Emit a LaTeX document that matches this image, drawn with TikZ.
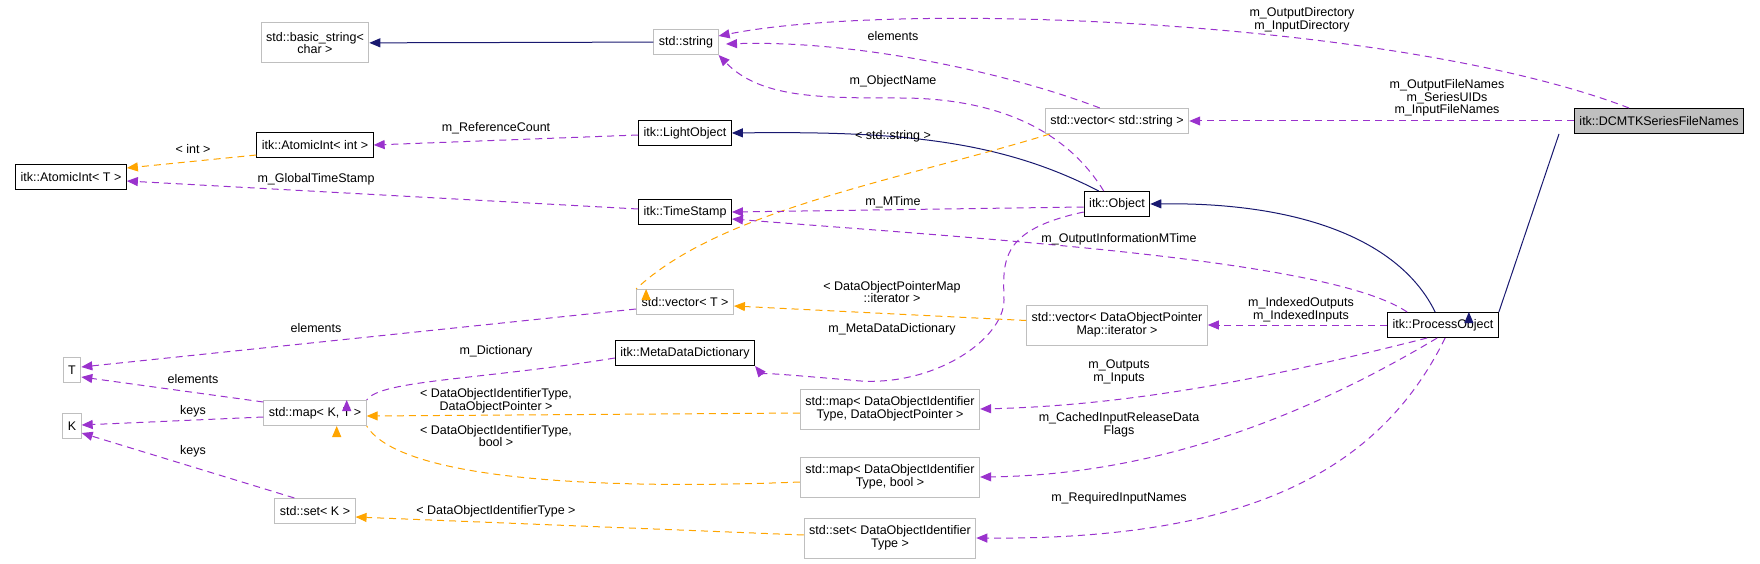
\documentclass[tikz,border=0pt]{standalone}
\usepackage{fontspec}
\setmainfont{Liberation Sans}
\usetikzlibrary{arrows.meta}
\definecolor{pur}{HTML}{9A32CD}
\definecolor{ora}{HTML}{FFA500}
\definecolor{nav}{HTML}{191970}
\definecolor{gbd}{HTML}{BFBFBF}
\begin{document}
\begin{tikzpicture}[x=1pt,y=-1pt,
  every node/.style={font=\fontsize{12.5}{12.7}\selectfont, align=center, inner sep=0pt},
  cls/.style={draw=black, line width=1pt, inner xsep=5pt, minimum height=25pt, fill=white},
  ext/.style={draw=gbd, line width=1pt, inner xsep=5pt, minimum height=25pt, fill=white},
  two/.style={minimum height=40pt},
  tip/.style={-{Triangle[length=11pt,width=9pt]}},
  mem/.style={tip, draw=pur, line width=1pt, dash pattern=on 7pt off 5pt},
  tpl/.style={tip, draw=ora, line width=1pt, dash pattern=on 7pt off 5pt},
  inh/.style={tip, draw=nav, line width=1pt},
  lab/.style={fill=none}]
\useasboundingbox (0,0) rectangle (1760,564);
% nodes
\node[ext,two] (basic) at (315,43) {std::basic\_string<\\char >};
\node[ext] (str) at (686,42) {std::string};
\node[cls] (aiint) at (315,145) {itk::AtomicInt< int >};
\node[cls] (aiT) at (71,177) {itk::AtomicInt< T >};
\node[cls] (light) at (685,133) {itk::LightObject};
\node[cls] (ts) at (685,212) {itk::TimeStamp};
\node[ext] (vstr) at (1117,121) {std::vector< std::string >};
\node[cls] (obj) at (1117,204) {itk::Object};
\node[cls, fill=gbd] (dcm) at (1659,121) {itk::DCMTKSeriesFileNames};
\node[ext] (vT) at (685,302) {std::vector< T >};
\node[cls] (mdd) at (685,353) {itk::MetaDataDictionary};
\node[ext] (T) at (72,370) {T};
\node[ext] (K) at (72,426) {K};
\node[ext] (mapKT) at (315,413) {std::map< K, T >};
\node[ext] (setK) at (315,511) {std::set< K >};
\node[ext,two] (mdop) at (890,409) {std::map< DataObjectIdentifier\\Type, DataObjectPointer >};
\node[ext,two] (mbool) at (890,477) {std::map< DataObjectIdentifier\\Type, bool >};
\node[ext,two] (sdoi) at (890,538) {std::set< DataObjectIdentifier\\Type >};
\node[ext,two] (vdop) at (1117,325) {std::vector< DataObjectPointer\\Map::iterator >};
\node[cls] (po) at (1443,325) {itk::ProcessObject};
% edges
\draw[inh] (str) -- (basic);
\draw[mem] (dcm.north west) ++(55,0) coordinate (d1) .. controls (1400,20) and (900,0) .. (str.north east |- 0,36);
\draw[mem] (vstr.north west) ++(55,0) .. controls (1000,70) and (850,40) .. (726,44);
\draw[mem] (obj.north west) ++(20,0) .. controls (1060,120) and (980,98) .. (900,98) .. controls (820,98) and (760,98) .. (str.south east);
\draw[mem] (dcm) -- (vstr);
\draw[inh] (obj.north west) ++(15,0) .. controls (1000,140) and (900,131) .. (light.east);
\draw[tpl] (vstr.south west) ++(5,0) .. controls (900,180) and (720,210) .. (vT.north west) ++(10,0);
\draw[mem] (light.west) ++(0,2) -- (aiint.east);
\draw[tpl] (aiint.west) ++(0,10) -- (aiT.east |- 0,168);
\draw[mem] (ts.west) ++(0,-3) -- (aiT.east |- 0,181);
\draw[mem] (obj.west) ++(0,3) -- (ts.east);
\draw[mem] (po.north west) ++(20,0) .. controls (1330,260) and (1000,240) .. (ts.east |- 0,219);
\draw[inh] (po.north west) ++(48,0) .. controls (1400,240) and (1300,202) .. (obj.east);
\draw[inh] (dcm.south west) ++(-15,0) coordinate (d2) -- (po.north east) ++(-30,0);
\draw[mem] (obj.west) ++(0,8) .. controls (1000,230) and (1003,260) .. (1004,300) .. controls (1004,340) and (930,390) .. (850,380) .. controls (800,376) and (760,372) .. (mdd.south east);
\draw[tpl] (vdop) -- (vT.east |- 0,306);
\draw[mem] (po) -- (vdop);
\draw[mem] (vT.west) ++(0,7) -- (T.east |- 0,367);
\draw[mem] (mdd.west) ++(0,5) .. controls (480,380) and (380,380) .. (mapKT.north east) ++(-20,0);
\draw[mem] (mapKT.north west) ++(0,2) -- (T.east |- 0,377);
\draw[mem] (mapKT.west) ++(0,4) -- (K.east |- 0,425);
\draw[mem] (setK.north west) ++(20,0) -- (K.east |- 0,433);
\draw[tpl] (mdop.west) ++(0,4) -- (mapKT.east |- 0,416);
\draw[tpl] (mbool.west) ++(0,5) .. controls (600,490) and (400,480) .. (mapKT.south east) ++(-30,0);
\draw[tpl] (sdoi.west) ++(0,-3) -- (setK.east |- 0,517);
\draw[mem] (po.south west) ++(40,0) .. controls (1300,370) and (1150,405) .. (mdop.east);
\draw[mem] (po.south west) ++(50,0) .. controls (1300,420) and (1150,475) .. (mbool.east);
\draw[mem] (po.south west) ++(58,0) .. controls (1380,470) and (1250,540) .. (sdoi.east);
% labels
\node[lab] (l1) at (1302,20) {m\_OutputDirectory\\m\_InputDirectory};
\node[lab] (l2) at (893,36) {elements};
\node[lab] (l3) at (893,81) {m\_ObjectName};
\node[lab] (l4) at (1447,98) {m\_OutputFileNames\\m\_SeriesUIDs\\m\_InputFileNames};
\node[lab] (l5) at (893,136) {< std::string >};
\node[lab] (l6) at (496,128) {m\_ReferenceCount};
\node[lab] (l7) at (193,149) {< int >};
\node[lab] (l8) at (316,179) {m\_GlobalTimeStamp};
\node[lab] (l9) at (893,202) {m\_MTime};
\node[lab] (l10) at (1119,239) {m\_OutputInformationMTime};
\node[lab] (l11) at (892,329) {m\_MetaDataDictionary};
\node[lab] (l12) at (892,292) {< DataObjectPointerMap\\::iterator >};
\node[lab] (l13) at (1301,310) {m\_IndexedOutputs\\m\_IndexedInputs};
\node[lab] (l14) at (316,328) {elements};
\node[lab] (l15) at (496,351) {m\_Dictionary};
\node[lab] (l16) at (193,379) {elements};
\node[lab] (l17) at (193,411) {keys};
\node[lab] (l18) at (193,451) {keys};
\node[lab] (l19) at (496,401) {< DataObjectIdentifierType,\\DataObjectPointer >};
\node[lab] (l20) at (496,436) {< DataObjectIdentifierType,\\bool >};
\node[lab] (l21) at (496,511) {< DataObjectIdentifierType >};
\node[lab] (l22) at (1119,372) {m\_Outputs\\m\_Inputs};
\node[lab] (l23) at (1119,425) {m\_CachedInputReleaseData\\Flags};
\node[lab] (l24) at (1119,498) {m\_RequiredInputNames};
\end{tikzpicture}
\end{document}
